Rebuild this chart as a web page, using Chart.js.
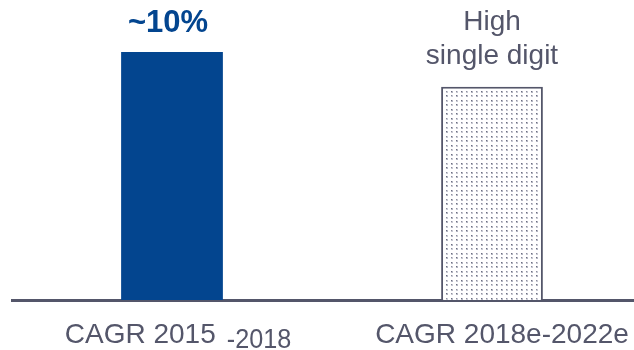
<!DOCTYPE html>
<html>
<head>
<meta charset="utf-8">
<script src="https://cdn.jsdelivr.net/npm/chart.js@4"></script>
<style>
  html, body { margin: 0; padding: 0; background: #fff; overflow: hidden; }
  #wrap { width: 652px; height: 350px; }
</style>
</head>
<body>
<div id="wrap"><canvas id="c" width="652" height="350"></canvas></div>
<script>
// Growth rates by period
const categories = ['CAGR 2015 -2018', 'CAGR 2018e-2022e'];
const growth = [10, 8.6];
const barLabels = [['~10%'], ['High', 'single digit']];

const GREY = '#54566a';
const BLUE = '#03458f';
const FONT = '"Liberation Sans", Arial, Helvetica, sans-serif';

// Light stippled fill for the forecast bar
function dotPattern(ctx) {
  const t = document.createElement('canvas');
  t.width = 10; t.height = 9;
  const g = t.getContext('2d');
  g.fillStyle = '#ffffff';
  g.fillRect(0, 0, 10, 9);
  const dot = (x, y, core, halo) => {
    g.fillStyle = halo;
    g.fillRect(x, y, 2, 2);
    g.fillStyle = core;
    g.fillRect(x, y, 1, 1);
  };
  dot(1, 1, '#6a6d80', '#b3b5c1');
  dot(6, 1, '#8d8f9f', '#c9cad3');
  dot(1, 5, '#8d8f9f', '#c9cad3');
  dot(6, 5, '#6a6d80', '#b3b5c1');
  return ctx.createPattern(t, 'repeat');
}

// Text above each bar
const topLabels = {
  id: 'topLabels',
  afterDatasetsDraw(chart) {
    const ctx = chart.ctx;
    const meta = chart.getDatasetMeta(0);
    const styles = [
      { font: 'bold 31px ' + FONT, color: BLUE, gap: 20, dx: -4 },
      { font: '28px ' + FONT, color: GREY, gap: 23, dx: 0 }
    ];
    ctx.save();
    ctx.textAlign = 'center';
    ctx.textBaseline = 'alphabetic';
    meta.data.forEach((bar, i) => {
      const st = styles[i];
      const lines = barLabels[i];
      ctx.font = st.font;
      ctx.fillStyle = st.color;
      lines.forEach((line, k) => {
        const y = bar.y - st.gap - (lines.length - 1 - k) * 34;
        ctx.fillText(line, bar.x + st.dx, y);
      });
    });
    ctx.restore();
  }
};

// Category names under the axis; the year range after " -" sits a little lower and tighter
const categoryLabels = {
  id: 'categoryLabels',
  afterDraw(chart) {
    const ctx = chart.ctx;
    const xs = chart.scales.x;
    const base = chart.chartArea.bottom + 43;
    ctx.save();
    ctx.font = '28px ' + FONT;
    ctx.fillStyle = GREY;
    ctx.textBaseline = 'alphabetic';
    ctx.textAlign = 'left';
    categories.forEach((name, i) => {
      const cx = xs.getPixelForValue(i);
      const cut = name.indexOf(' -');
      if (cut < 0) {
        const w = ctx.measureText(name).width;
        ctx.fillText(name, cx + 10 - w / 2, base);
        return;
      }
      const head = name.slice(0, cut);
      const tail = name.slice(cut + 1);
      const hw = ctx.measureText(head).width;
      const squeeze = 0.9;
      const tw = ctx.measureText(tail).width * squeeze;
      const gap = 11;
      let x = cx + 6 - (hw + gap + tw) / 2;
      ctx.fillText(head, x, base);
      ctx.save();
      ctx.translate(x + hw + gap, base + 5);
      ctx.scale(squeeze, 1);
      ctx.fillText(tail, 0, 0);
      ctx.restore();
    });
    ctx.restore();
  }
};

const ctx = document.getElementById('c').getContext('2d');

new Chart(ctx, {
  type: 'bar',
  data: {
    labels: categories,
    datasets: [{
      data: growth,
      backgroundColor: [BLUE, dotPattern(ctx)],
      borderColor: [BLUE, GREY],
      borderWidth: [0, 2],
      borderSkipped: 'bottom',
      barPercentage: 0.318,
      categoryPercentage: 1
    }]
  },
  options: {
    responsive: false,
    animation: false,
    devicePixelRatio: 1,
    layout: { padding: { left: 12, right: 0, top: 0, bottom: 0 } },
    plugins: { legend: { display: false }, tooltip: { enabled: false } },
    scales: {
      y: {
        display: false,
        min: 0,
        max: 12.1
      },
      x: {
        z: 1,
        grid: { display: false, drawTicks: false },
        border: { display: true, color: GREY, width: 3 },
        ticks: { display: false },
        afterFit(scale) { scale.height = 50; }
      }
    }
  },
  plugins: [topLabels, categoryLabels]
});
</script>
</body>
</html>
